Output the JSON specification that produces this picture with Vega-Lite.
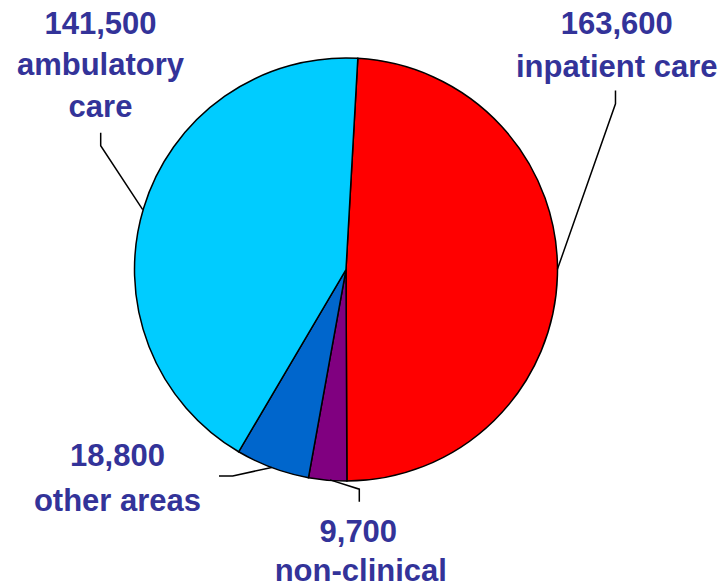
{
  "$schema": "https://vega.github.io/schema/vega-lite/v6.json",
  "width": 722,
  "height": 587,
  "padding": 0,
  "autosize": {"type": "fit", "contains": "padding"},
  "config": {"view": {"stroke": null}},
  "background": "white",
  "datasets": {
    "slices": [
      {"category": "inpatient care", "value": 163600, "order": 1},
      {"category": "non-clinical", "value": 9700, "order": 2},
      {"category": "other areas", "value": 18800, "order": 3},
      {"category": "ambulatory care", "value": 141500, "order": 4}
    ],
    "leaders": [
      {"label": "ambulatory care", "seq": 1, "x": -1.1598, "y": 0.6478},
      {"label": "ambulatory care", "seq": 2, "x": -1.1598, "y": 0.5863},
      {"label": "ambulatory care", "seq": 3, "x": -0.9612, "y": 0.2837},
      {"label": "inpatient care", "seq": 1, "x": 1.2742, "y": 0.8478},
      {"label": "inpatient care", "seq": 2, "x": 1.2742, "y": 0.7849},
      {"label": "inpatient care", "seq": 3, "x": 0.9991, "y": 0.0},
      {"label": "other areas", "seq": 1, "x": -0.6005, "y": -0.9773},
      {"label": "other areas", "seq": 2, "x": -0.5357, "y": -0.9773},
      {"label": "other areas", "seq": 3, "x": -0.3513, "y": -0.9376},
      {"label": "non-clinical", "seq": 1, "x": -0.0757, "y": -0.9962},
      {"label": "non-clinical", "seq": 2, "x": 0.0629, "y": -1.0402},
      {"label": "non-clinical", "seq": 3, "x": 0.0629, "y": -1.1002}
    ],
    "labels": [
      {"text": "141,500", "x": -1.1608, "y": 1.1144},
      {"text": "ambulatory", "x": -1.1608, "y": 0.9220},
      {"text": "care", "x": -1.1608, "y": 0.7220},
      {"text": "163,600", "x": 1.2799, "y": 1.1144},
      {"text": "inpatient care", "x": 1.2799, "y": 0.9139},
      {"text": "18,800", "x": -1.0804, "y": -0.9300},
      {"text": "other  areas", "x": -1.0804, "y": -1.1428},
      {"text": "9,700", "x": 0.0582, "y": -1.2922},
      {"text": "non-clinical", "x": 0.0700, "y": -1.4738}
    ]
  },
  "layer": [
    {
      "data": {"name": "slices"},
      "mark": {"type": "arc", "outerRadius": 211.5, "stroke": "black", "strokeWidth": 1.5},
      "encoding": {
        "theta": {"field": "value", "type": "quantitative", "stack": true, "scale": {"range": [0.0559, 6.3391]}},
        "order": {"field": "order", "type": "quantitative"},
        "color": {
          "field": "category",
          "type": "nominal",
          "legend": null,
          "scale": {
            "domain": ["inpatient care", "non-clinical", "other areas", "ambulatory care"],
            "range": ["#FF0000", "#800080", "#0066CC", "#00CCFF"]
          }
        },
        "x": {"datum": 0, "type": "quantitative", "axis": null, "scale": {"domain": [-1.6359, 1.7778], "nice": false, "zero": false}},
        "y": {"datum": 0, "type": "quantitative", "axis": null, "scale": {"domain": [-1.4988, 1.2766], "nice": false, "zero": false}}
      }
    },
    {
      "data": {"name": "leaders"},
      "mark": {"type": "line", "color": "black", "strokeWidth": 1.5},
      "encoding": {
        "x": {"field": "x", "type": "quantitative", "axis": null},
        "y": {"field": "y", "type": "quantitative", "axis": null},
        "detail": {"field": "label"},
        "order": {"field": "seq", "type": "quantitative"}
      }
    },
    {
      "data": {"name": "labels"},
      "mark": {"type": "text", "align": "center", "baseline": "alphabetic", "font": "Liberation Sans", "fontWeight": "bold", "fontSize": 31, "color": "#333399"},
      "encoding": {
        "x": {"field": "x", "type": "quantitative", "axis": null},
        "y": {"field": "y", "type": "quantitative", "axis": null},
        "text": {"field": "text"}
      }
    }
  ]
}
